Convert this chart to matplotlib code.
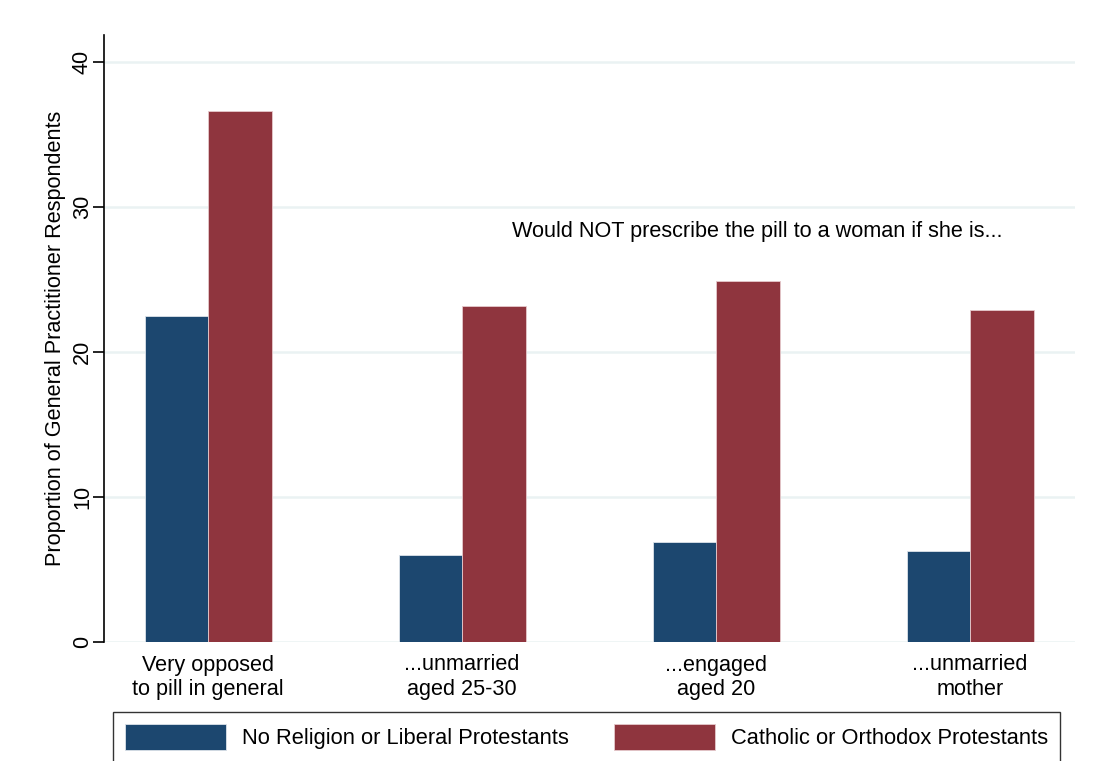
import numpy as np
import matplotlib
matplotlib.use("Agg")
import matplotlib.pyplot as plt

plt.rcParams['font.family'] = ['Liberation Sans', 'DejaVu Sans']

# data
categories = ["Very opposed\nto pill in general", "...unmarried\naged 25-30",
              "...engaged\naged 20", "...unmarried\nmother"]
no_religion = [22.5, 6.0, 6.9, 6.3]
catholic = [36.6, 23.2, 24.9, 22.9]
series_names = ["No Religion or Liberal Protestants", "Catholic or Orthodox Protestants"]
yticks = [0, 10, 20, 30, 40]

blue = "#1c476f"
red = "#8f353e"
fs = 15.6
lfs = 15.75

fig = plt.figure(figsize=(10.93, 7.61), dpi=100)
ax = fig.add_axes([104 / 1093, (761 - 642) / 761, (1075 - 104) / 1093, (642 - 35) / 761])

x = np.arange(len(categories))
w = 0.25
ax.bar(x - w / 2, no_religion, w, color=blue, edgecolor="#dde3ea", linewidth=0.6,
       label=series_names[0], zorder=3)
ax.bar(x + w / 2, catholic, w, color=red, edgecolor="#e6c9cc", linewidth=0.6,
       label=series_names[1], zorder=3)

ax.set_xlim(-0.41, 3.413)
ax.set_ylim(0, 41.86)
ax.set_yticks(yticks)
ax.set_yticklabels([str(t) for t in yticks], rotation=90, va="center", fontsize=fs)
ax.tick_params(axis="y", length=8, width=1.2, pad=0, direction="out")
ax.set_xticks(x)
ax.set_xticklabels(categories, fontsize=fs)
ax.tick_params(axis="x", length=0, pad=9)

for t in yticks:
    ax.axhline(t, color="#eaf2f3", lw=1.8, zorder=1)

for s in ["top", "right", "bottom"]:
    ax.spines[s].set_visible(False)
ax.spines["left"].set_linewidth(1.2)

ax.set_ylabel("Proportion of General Practitioner Respondents", fontsize=fs, labelpad=4)

ax.text(2.16, 28.3, "Would NOT prescribe the pill to a woman if she is...",
        fontsize=fs, ha="center", va="center")

leg = fig.legend(loc="upper left", bbox_to_anchor=(113 / 1093, 1 - 712 / 761),
                 ncol=2, fontsize=lfs, frameon=True, fancybox=False,
                 handlelength=4.6, handleheight=1.45, handletextpad=0.73,
                 borderpad=0.55, borderaxespad=0, columnspacing=2.1)
leg.get_frame().set_edgecolor("black")
leg.get_frame().set_linewidth(1.0)

fig.savefig("out.png", dpi=100)
